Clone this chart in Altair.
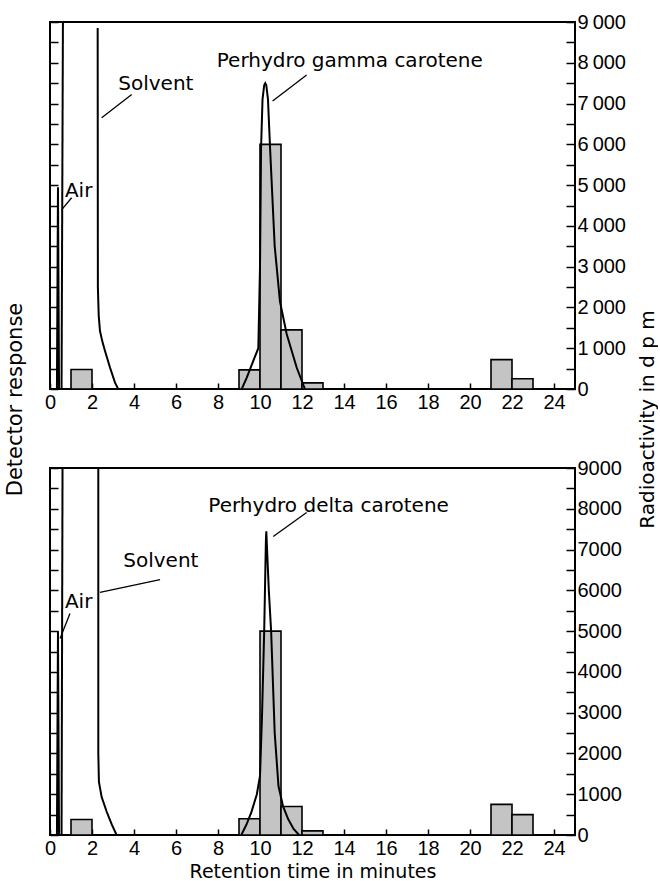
import altair as alt
import pandas as pd

# ---------------- data ----------------
BIN_START = [1, 9, 10, 11, 12, 21, 22]
DPM_GAMMA = [480, 470, 6000, 1450, 150, 720, 250]
DPM_DELTA = [380, 400, 5000, 700, 100, 750, 500]

# detector trace, perhydro gamma carotene run
GAMMA_SEG = ["air"] * 3 + ["rise"] * 2 + ["fall"] * 9 + ["peak"] * 17
GAMMA_X = [0.33, 0.38, 0.43,
           0.55, 0.62,
           2.27, 2.28, 2.32, 2.38, 2.5, 2.62, 2.86, 3.1, 3.25,
           9.13, 9.37, 9.68, 9.92, 10.0, 10.05, 10.12, 10.2, 10.25, 10.3, 10.38,
           10.48, 10.7, 10.95, 11.27, 11.75, 12.14]
GAMMA_Y = [0, 4950, 0,
           0, 9600,
           8850, 2500, 1800, 1420, 1150, 930, 520, 150, 0,
           0, 280, 690, 1000, 3000, 5900, 7100, 7450, 7500, 7450, 7100,
           5900, 3500, 2150, 1350, 520, 0]

# detector trace, perhydro delta carotene run
DELTA_SEG = ["air"] * 3 + ["rise"] * 2 + ["fall"] * 7 + ["peak"] * 18
DELTA_X = [0.33, 0.38, 0.43,
           0.55, 0.6,
           2.3, 2.3, 2.33, 2.46, 2.7, 2.94, 3.17,
           9.11, 9.35, 9.59, 9.85, 10.0, 10.1, 10.2, 10.28, 10.3, 10.32, 10.42,
           10.53, 10.7, 10.88, 11.1, 11.34, 11.6, 11.86]
DELTA_Y = [0, 5000, 0,
           0, 9600,
           9600, 2000, 1300, 930, 570, 260, 0,
           0, 250, 560, 1000, 1450, 3000, 5000, 7200, 7450, 7200, 6000,
           5000, 2500, 1200, 700, 390, 150, 0]

# annotations
GAMMA_LABELS = ["Air", "Solvent", "Perhydro gamma carotene"]
GAMMA_LAB_X = [0.71, 3.25, 7.94]
GAMMA_LAB_Y = [4850, 7475, 8040]
GAMMA_LDR_X1 = [1.03, 3.89, 12.22]
GAMMA_LDR_Y1 = [4690, 7220, 7700]
GAMMA_LDR_X2 = [0.56, 2.46, 10.6]
GAMMA_LDR_Y2 = [4400, 6650, 7060]

DELTA_LABELS = ["Air", "Solvent", "Perhydro delta carotene"]
DELTA_LAB_X = [0.71, 3.49, 7.54]
DELTA_LAB_Y = [5710, 6730, 8070]
DELTA_LDR_X1 = [0.95, 5.24, 12.22]
DELTA_LDR_Y1 = [5430, 6260, 7910]
DELTA_LDR_X2 = [0.48, 2.38, 10.63]
DELTA_LDR_Y2 = [4820, 5950, 7320]

X_TICKS = list(range(0, 25))
Y_TICKS = list(range(0, 9001, 500))

TEXT_FONT = "DejaVu Sans"
NUM_FONT = "Liberation Sans, sans-serif"

W, H = 525, 367


def panel(dpm, tx, ty, tseg, labs, lx, ly, lx1, ly1, lx2, ly2, top):
    bars_df = pd.DataFrame({"start": BIN_START,
                            "end": [s + 1 for s in BIN_START],
                            "dpm": dpm})
    trace_df = pd.DataFrame({"x": tx, "y": ty, "seg": tseg,
                             "i": list(range(len(tx)))})
    lab_df = pd.DataFrame({"t": labs, "x": lx, "y": ly})
    ldr_df = pd.DataFrame({"x1": lx1, "y1": ly1, "x2": lx2, "y2": ly2})

    xs = alt.Scale(domain=[0, 25], nice=False, zero=False)
    ys = alt.Scale(domain=[0, 9000], nice=False)

    x_axis_kw = dict(
        values=X_TICKS,
        labelExpr="datum.value % 2 == 0 ? datum.label : ''",
        orient="bottom", offset=-6, tickSize=6, tickWidth=1.5, tickColor="black",
        domain=False, grid=False, labelFont=NUM_FONT, labelFontSize=20,
        labelColor="black", labelPadding=3, labelFlush=False, labelOverlap=False,
    )
    if top:
        x_axis = alt.Axis(title=None, **x_axis_kw)
    else:
        x_axis = alt.Axis(title="Retention time in minutes", titleFont=TEXT_FONT,
                          titleFontSize=19, titleFontWeight="normal", titleColor="black",
                          titleX=W / 2, titleY=42, titleAlign="center",
                          titleBaseline="middle", **x_axis_kw)

    if top:
        lab_expr = ("datum.value % 1000 == 0 ? (datum.value == 0 ? '0' : "
                    "floor(datum.value / 1000) + '\u2009000') : ''")
    else:
        lab_expr = "datum.value % 1000 == 0 ? datum.value + '' : ''"

    right_kw = dict(orient="right", values=Y_TICKS, labelExpr=lab_expr,
                    offset=-9, tickSize=9, tickWidth=1.5, tickColor="black",
                    domain=False, grid=False, labelFont=NUM_FONT, labelFontSize=20,
                    labelColor="black", labelPadding=2, labelFlush=False,
                    labelOverlap=False)
    if top:
        right_axis = alt.Axis(title="Radioactivity in d p m", titleFont=TEXT_FONT,
                              titleFontSize=20, titleFontWeight="normal",
                              titleColor="black", titleAngle=270, titleX=81,
                              titleY=397, titleAlign="center",
                              titleBaseline="middle", **right_kw)
    else:
        right_axis = alt.Axis(title=None, **right_kw)

    left_kw = dict(orient="left", values=Y_TICKS, labels=False, offset=-8,
                   tickSize=8, tickWidth=1.5, tickColor="black", domain=False,
                   grid=False)
    if top:
        left_axis = alt.Axis(title="Detector response", titleFont=TEXT_FONT,
                             titleFontSize=21, titleFontWeight="normal",
                             titleColor="black", titleAngle=270, titleX=-43,
                             titleY=377, titleAlign="center",
                             titleBaseline="middle", **left_kw)
    else:
        left_axis = alt.Axis(title=None, **left_kw)

    bars = alt.Chart(bars_df).mark_bar(
        fill="#c4c4c4", stroke="black", strokeWidth=1.6
    ).encode(
        x=alt.X("start:Q", scale=xs, axis=x_axis),
        x2="end:Q",
        y=alt.Y("dpm:Q", scale=ys, axis=right_axis),
        y2=alt.datum(0),
    )

    trace = alt.Chart(trace_df).mark_line(
        color="black", strokeWidth=2, clip=True
    ).encode(
        x=alt.X("x:Q", scale=xs),
        y=alt.Y("y:Q", scale=ys, axis=left_axis),
        detail="seg:N",
        order="i:Q",
    )

    leaders = alt.Chart(ldr_df).mark_rule(color="black", strokeWidth=1.3).encode(
        x=alt.X("x1:Q", scale=xs),
        y=alt.Y("y1:Q", scale=ys, axis=None),
        x2="x2:Q",
        y2="y2:Q",
    )

    texts = alt.Chart(lab_df).mark_text(
        font=TEXT_FONT, fontSize=20, align="left", baseline="middle", color="black"
    ).encode(
        x=alt.X("x:Q", scale=xs),
        y=alt.Y("y:Q", scale=ys, axis=None),
        text="t:N",
    )

    return alt.layer(bars, trace, leaders, texts).resolve_axis(
        y="independent"
    ).properties(width=W, height=H)


top_panel = panel(DPM_GAMMA, GAMMA_X, GAMMA_Y, GAMMA_SEG, GAMMA_LABELS,
                  GAMMA_LAB_X, GAMMA_LAB_Y, GAMMA_LDR_X1, GAMMA_LDR_Y1,
                  GAMMA_LDR_X2, GAMMA_LDR_Y2, True)
bottom_panel = panel(DPM_DELTA, DELTA_X, DELTA_Y, DELTA_SEG, DELTA_LABELS,
                     DELTA_LAB_X, DELTA_LAB_Y, DELTA_LDR_X1, DELTA_LDR_Y1,
                     DELTA_LDR_X2, DELTA_LDR_Y2, False)

chart = alt.vconcat(top_panel, bottom_panel, spacing=79, bounds="flush").properties(
    padding={"left": 3, "top": 11, "right": 0, "bottom": 0}
).configure(
    background="white"
).configure_view(
    stroke="black", strokeWidth=2
)

chart.save("out.html", embed_options={"renderer": "svg", "actions": False})
